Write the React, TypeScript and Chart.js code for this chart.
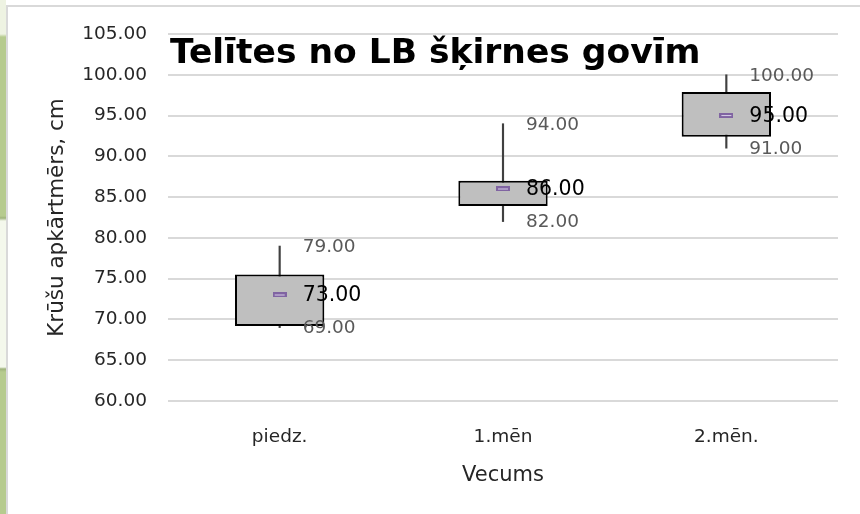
import React, { useEffect, useRef } from "react";
import { Chart, registerables } from "chart.js";

Chart.register(...registerables);

const categories = ["piedz.", "1.mēn", "2.mēn."];
const minValues = [69, 82, 91];
const q1Values = [69.2, 83.9, 92.4];
const q3Values = [75.5, 87, 97.9];
const maxValues = [79, 94, 100];
const meanValues = [73, 86, 95];
const yMin = 60;
const yMax = 105;
const yStep = 5;
const chartTitle = "Telītes no LB šķirnes govīm";
const yAxisTitle = "Krūšu apkārtmērs, cm";
const xAxisTitle = "Vecums";

const FONT = "'DejaVu Sans', 'Open Sans', sans-serif";

function makeMeanMarker(): HTMLCanvasElement {
  const c = document.createElement("canvas");
  c.width = 14;
  c.height = 5;
  const g = c.getContext("2d")!;
  g.fillStyle = "#8064a2";
  g.fillRect(0, 0, 14, 5);
  g.fillStyle = "#d8cfe8";
  g.fillRect(2, 2, 10, 1);
  return c;
}

const labelPlugin = {
  id: "boxLabels",
  afterDatasetsDraw(chart: any) {
    const ctx = chart.ctx;
    const yScale = chart.scales.y;
    const meta = chart.getDatasetMeta(1);
    ctx.save();
    ctx.textAlign = "left";
    ctx.textBaseline = "middle";
    meta.data.forEach((el: any, i: number) => {
      const x = el.x + 23;
      ctx.font = `18.5px ${FONT}`;
      ctx.fillStyle = "#595959";
      ctx.fillText(maxValues[i].toFixed(2), x, yScale.getPixelForValue(maxValues[i]) + 1);
      ctx.fillText(minValues[i].toFixed(2), x, yScale.getPixelForValue(minValues[i]) + 1);
      ctx.font = `20.5px ${FONT}`;
      ctx.fillStyle = "#000000";
      ctx.fillText(meanValues[i].toFixed(2), x, yScale.getPixelForValue(meanValues[i]) + 1);
    });
    ctx.font = `bold 34.5px ${FONT}`;
    ctx.fillStyle = "#000000";
    ctx.textBaseline = "alphabetic";
    ctx.fillText(chartTitle, chart.chartArea.left + 2, 63);
    ctx.restore();
  },
};

export default function App() {
  const ref = useRef<HTMLCanvasElement | null>(null);

  useEffect(() => {
    if (!ref.current) return;
    const marker = makeMeanMarker();
    const chart = new Chart(ref.current, {
      type: "bar",
      data: {
        labels: categories,
        datasets: [
          {
            type: "line",
            label: "Vidējais",
            data: meanValues,
            showLine: false,
            pointStyle: marker as any,
            pointRadius: 7,
            order: 0,
          } as any,
          {
            type: "bar",
            label: "Kvartiles",
            data: q1Values.map((q, i) => [q, q3Values[i]]),
            backgroundColor: "#bfbfbf",
            borderColor: "#000000",
            borderWidth: 2,
            borderSkipped: false,
            grouped: false,
            barPercentage: 0.4,
            categoryPercentage: 1,
            order: 1,
          } as any,
          {
            type: "bar",
            label: "Min-max",
            data: minValues.map((m, i) => [m, maxValues[i]]),
            backgroundColor: "#404040",
            barThickness: 1.5,
            grouped: false,
            order: 2,
          } as any,
        ],
      },
      options: {
        responsive: false,
        animation: false,
        events: [],
        layout: { padding: { top: 34, right: 22, left: 0, bottom: 0 } },
        plugins: {
          legend: { display: false },
          tooltip: { enabled: false },
          title: { display: false },
        },
        scales: {
          x: {
            offset: true,
            grid: { display: false, drawTicks: false },
            border: { display: false },
            ticks: {
              padding: 25,
              color: "#262626",
              font: { family: FONT, size: 18.5 },
              maxRotation: 0,
            },
            title: {
              display: true,
              text: xAxisTitle,
              color: "#262626",
              font: { family: FONT, size: 21 },
              padding: { top: 0, bottom: 26 },
            },
            afterFit(scale: any) {
              scale.height = 113;
            },
          },
          y: {
            min: yMin,
            max: yMax,
            grid: { color: "#d9d9d9", lineWidth: 2, drawTicks: false },
            border: { display: false },
            ticks: {
              stepSize: yStep,
              padding: 21,
              color: "#262626",
              font: { family: FONT, size: 18.5 },
              callback: (v: any) => Number(v).toFixed(2),
            },
            title: {
              display: true,
              text: yAxisTitle,
              color: "#262626",
              font: { family: FONT, size: 21.5 },
              padding: { top: 45, bottom: 0 },
            },
            afterFit(scale: any) {
              scale.width = 168;
            },
          },
        },
      } as any,
      plugins: [labelPlugin],
    });
    return () => chart.destroy();
  }, []);

  return (
    <div
      style={{
        position: "absolute",
        left: 0,
        top: 0,
        width: 860,
        height: 514,
        background: "#ffffff",
        overflow: "hidden",
      }}
    >
      <div
        style={{
          position: "absolute",
          left: 0,
          top: 0,
          width: 6,
          height: 514,
          background:
            "linear-gradient(to bottom, #eef3e2 0px, #eef3e2 34px, #b6cb8e 37px, #b6cb8e 216px, #9fb37c 218px, #f4f8ec 221px, #f4f8ec 367px, #9fb37c 369px, #b6cb8e 372px, #b6cb8e 514px)",
        }}
      />
      <div style={{ position: "absolute", left: 6, top: 5, width: 2, height: 509, background: "#d9d9d9" }} />
      <div style={{ position: "absolute", left: 6, top: 5, width: 854, height: 2, background: "#d9d9d9" }} />
      <canvas ref={ref} width={860} height={514} style={{ position: "absolute", left: 0, top: 0 }} />
    </div>
  );
}
